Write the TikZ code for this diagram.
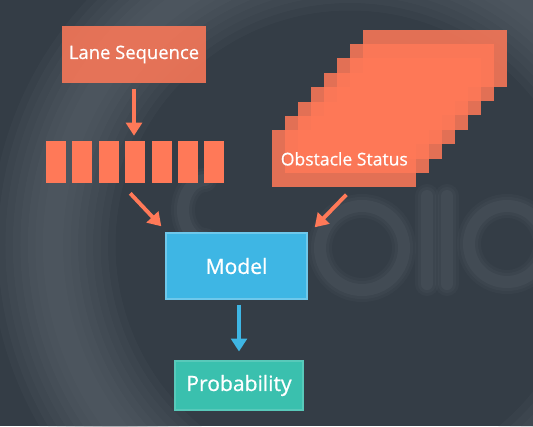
\documentclass[tikz,border=0pt]{standalone}
\usepackage{fontspec}
\setmainfont{Open Sans}[FakeBold=0.7]
\usetikzlibrary{arrows.meta,calc,positioning}
\definecolor{bgcol}{RGB}{52,61,70}
\definecolor{ringcol}{RGB}{104,113,121}
\definecolor{emph1}{RGB}{255,121,88}
\definecolor{emph2}{RGB}{62,182,228}
\definecolor{emph3}{RGB}{58,192,174}

\begin{document}
\begin{tikzpicture}[x=0.02cm,y=-0.02cm,
  obox/.style={fill=emph1,fill opacity=0.86,text opacity=1,text=white,inner sep=0,
    minimum width=2.88cm,minimum height=1.14cm},
  bar/.style={fill=emph1,inner sep=0,minimum width=0.4cm,minimum height=0.84cm},
  oarrow/.style={emph1,line width=2.2pt,-{Triangle[width=9pt,length=7.4pt]}},
  barrow/.style={emph2,line width=2.2pt,-{Triangle[width=9pt,length=7.4pt]}},
  wm/.style={ringcol,line cap=round}]
  \def\dx{12.9};
  \def\dy{14.4};
  \fill[bgcol] (0,0) rectangle (533,426);
  \begin{scope}
    \clip (0,0) rectangle (533,426);
    \foreach \w in {20,35,...,125}
      \draw[ringcol,line width=\w*0.02cm,opacity=0.09] (350,245) circle (297);
    %watermark letters
    \foreach \w/\o in {24/0.08,18/0.1,12/0.15}{
      \draw[wm,line width=\w*0.02cm,opacity=\o] (362,248) circle (42);
      \draw[wm,line width=\w*0.02cm,opacity=\o] (427,196)--(427,284);
      \draw[wm,line width=\w*0.02cm,opacity=\o] (447,196)--(447,284);
      \draw[wm,line width=\w*0.02cm,opacity=\o] (507,244) circle (38);
      \draw[wm,line width=\w*0.02cm,opacity=\o] (205,240) arc (90:270:22 and 30);
    }
  \end{scope}

  \node[obox] (lane) at (134,54.5) {\fontsize{10.5}{12}\selectfont Lane Sequence};
  \foreach \i in {1,...,7}
    \node[bar] (b\i) at ({56+26.4*(\i-1)},162) {};

  \foreach \i in {7,...,1}
    \node[obox,anchor=north west] (o\i) at (272+\i*\dx,130-\i*\dy) {};
  \node[obox,anchor=north west] (obst) at (272,130)
    {\fontsize{10}{12}\selectfont Obstacle Status};

  \node[fill=emph2,draw=emph2!75!white,line width=0.8pt,text=white,
    minimum width=2.82cm,minimum height=1.32cm] (model) at (236.5,266)
    {\fontsize{12}{14}\selectfont Model};
  \node[fill=emph3,draw=emph3!85!white,line width=0.8pt,text=white,
    minimum width=2.56cm,minimum height=0.98cm] (prob) at (239,385.5)
    {\fontsize{12}{14}\selectfont Probability};

  \draw[oarrow,shorten <=3.4pt,shorten >=2.8pt] (lane) -- (lane |- b4.north);
  \draw[oarrow] ($(b4.south)+(-5,10)$) -- ($(model.north west)+(-4,-6)$);
  \draw[oarrow] ($(obst.south)+(2,7)$) -- ($(model.north east)+(7,-5)$);
  \draw[barrow,shorten <=2.8pt,shorten >=5pt] (prob |- model.south) -- (prob);
\end{tikzpicture}
\end{document}
